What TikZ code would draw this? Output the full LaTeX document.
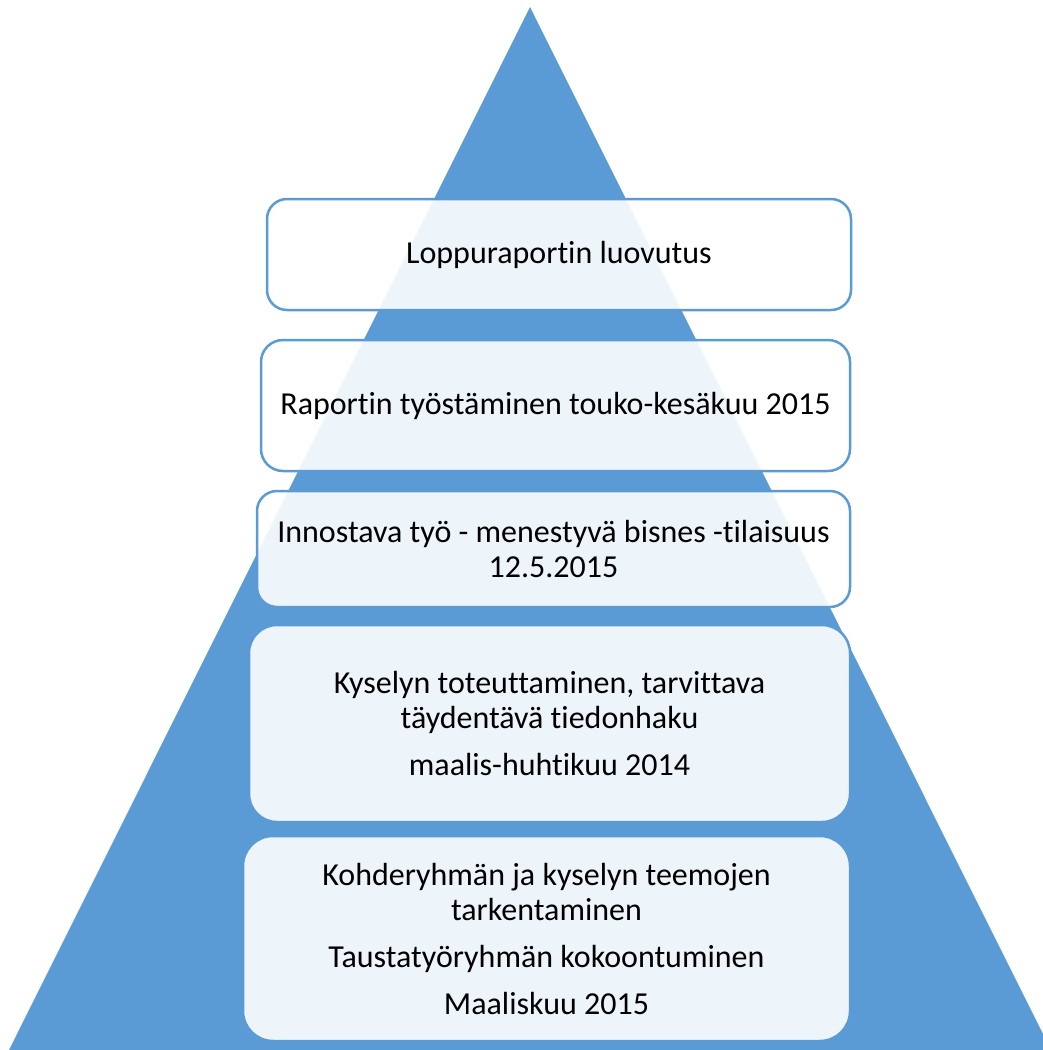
\documentclass[tikz,border=0pt]{standalone}
\usepackage{fontspec}
\setmainfont{Carlito}[Ligatures=NoCommon]
\definecolor{pyramidblue}{rgb}{0.3568627450980392,0.6078431372549019,0.8352941176470589}

\begin{document}
\begin{tikzpicture}[line cap=round,line join=round,x=1.0pt,y=-1.0pt,
  stepbox/.style={draw=pyramidblue,line width=2.5pt,fill=white,fill opacity=0.9,text opacity=1,inner sep=0pt,align=center,font=\fontsize{32}{35}\selectfont}]
\useasboundingbox (0,0) rectangle (1042,1050);
\fill [pyramidblue] (530,7) -- (1051,1050) -- (9,1050) -- cycle;
\node [stepbox,rounded corners=20pt,minimum width=584pt,minimum height=111pt] (luovutus) at (559,254.5) {Loppuraportin luovutus};
\node [stepbox,rounded corners=22pt,minimum width=589pt,minimum height=131pt] (raportti) at (555.5,405.5) {Raportin työstäminen touko-kesäkuu 2015};
\node [stepbox,rounded corners=20pt,minimum width=593pt,minimum height=116pt] (tilaisuus) at (553.5,549) {Innostava työ - menestyvä bisnes -tilaisuus\\12.5.2015};
\node [stepbox,rounded corners=28pt,minimum width=601pt,minimum height=197pt] (kysely) at (549.5,723.5) {Kyselyn toteuttaminen, tarvittava\\täydentävä tiedonhaku\\[12pt]maalis-huhtikuu 2014};
\node [stepbox,rounded corners=30pt,minimum width=607pt,minimum height=205pt] (kohderyhma) at (546.5,938.5) {Kohderyhmän ja kyselyn teemojen\\tarkentaminen\\[12pt]Taustatyöryhmän kokoontuminen\\[12pt]Maaliskuu 2015};
\end{tikzpicture}
\end{document}
